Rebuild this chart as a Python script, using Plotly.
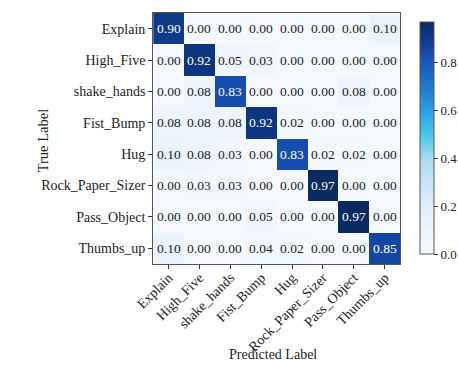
import plotly.graph_objects as go

# Action classes and normalised confusion matrix (rows: true, cols: predicted)
labels = ["Explain", "High_Five", "shake_hands", "Fist_Bump", "Hug",
          "Rock_Paper_Sizer", "Pass_Object", "Thumbs_up"]

row_explain = [0.90, 0.00, 0.00, 0.00, 0.00, 0.00, 0.00, 0.10]
row_high_five = [0.00, 0.92, 0.05, 0.03, 0.00, 0.00, 0.00, 0.00]
row_shake_hands = [0.00, 0.08, 0.83, 0.00, 0.00, 0.00, 0.08, 0.00]
row_fist_bump = [0.08, 0.08, 0.08, 0.92, 0.02, 0.00, 0.00, 0.00]
row_hug = [0.10, 0.08, 0.03, 0.00, 0.83, 0.02, 0.02, 0.00]
row_rock = [0.00, 0.03, 0.03, 0.00, 0.00, 0.97, 0.00, 0.00]
row_pass = [0.00, 0.00, 0.00, 0.05, 0.00, 0.00, 0.97, 0.00]
row_thumbs = [0.10, 0.00, 0.00, 0.04, 0.02, 0.00, 0.00, 0.85]

matrix = [row_explain, row_high_five, row_shake_hands, row_fist_bump,
          row_hug, row_rock, row_pass, row_thumbs]

colorbar_ticks = [0.0, 0.2, 0.4, 0.6, 0.8]

SERIF = "Liberation Serif"

colorscale = [
    [0.00, "#f5f9fe"],
    [0.20, "#e2eef9"],
    [0.40, "#b0dcf1"],
    [0.52, "#45c5ec"],
    [0.62, "#2aa0e0"],
    [0.72, "#1f78d2"],
    [0.82, "#1b58bd"],
    [0.90, "#11409a"],
    [1.00, "#0a2a62"],
]

zmax = 0.97

fig = go.Figure(go.Heatmap(
    z=matrix, x=labels, y=labels,
    colorscale=colorscale, zmin=0.0, zmax=zmax,
    xgap=0, ygap=0,
    colorbar=dict(
        x=419 / 458, xanchor="left", xpad=0,
        y=1 - 12 / 371, yanchor="top", len=252 / 371, lenmode="fraction",
        thickness=14, outlinewidth=1, outlinecolor="#555",
        tickvals=colorbar_ticks, ticktext=[f"{t:.1f}" for t in colorbar_ticks],
        ticks="outside", ticklen=4, tickcolor="#333",
        tickfont=dict(family=SERIF, size=13, color="#222"),
    ),
    hoverinfo="skip",
))

# Cell value labels, light text on dark cells
annotations = []
for i, row in enumerate(matrix):
    for j, v in enumerate(row):
        annotations.append(dict(
            x=labels[j], y=labels[i], text=f"{v:.2f}", showarrow=False,
            font=dict(family=SERIF, size=13.5,
                      color="#ffffff" if v > 0.5 else "#1a1a1a"),
        ))

annotations.append(dict(
    x=266 / 458, y=1 - 364 / 371, xref="paper", yref="paper",
    text="Predicted Label", showarrow=False,
    font=dict(family=SERIF, size=14, color="#222"),
))
annotations.append(dict(
    x=16 / 458, y=1 - 140 / 371, xref="paper", yref="paper",
    text="True Label", showarrow=False, textangle=-90,
    font=dict(family=SERIF, size=14.5, color="#222"),
))

fig.update_layout(
    width=458, height=371,
    margin=dict(l=0, r=0, t=0, b=0),
    paper_bgcolor="white", plot_bgcolor="white",
    annotations=annotations,
    xaxis=dict(
        domain=[141 / 458, 398.6 / 458],
        tickangle=-45, ticks="outside", ticklen=4, tickcolor="#333",
        ticklabelstandoff=-5,
        tickfont=dict(family=SERIF, size=14, color="#222"),
        showline=True, linecolor="#555", linewidth=1, mirror=True,
        showgrid=False, zeroline=False,
    ),
    yaxis=dict(
        domain=[1 - 264 / 371, 1 - 13 / 371],
        autorange="reversed",
        ticks="outside", ticklen=4, tickcolor="#333",
        tickfont=dict(family=SERIF, size=14, color="#222"),
        showline=True, linecolor="#555", linewidth=1, mirror=True,
        showgrid=False, zeroline=False,
    ),
)

fig.write_html("out.html")
